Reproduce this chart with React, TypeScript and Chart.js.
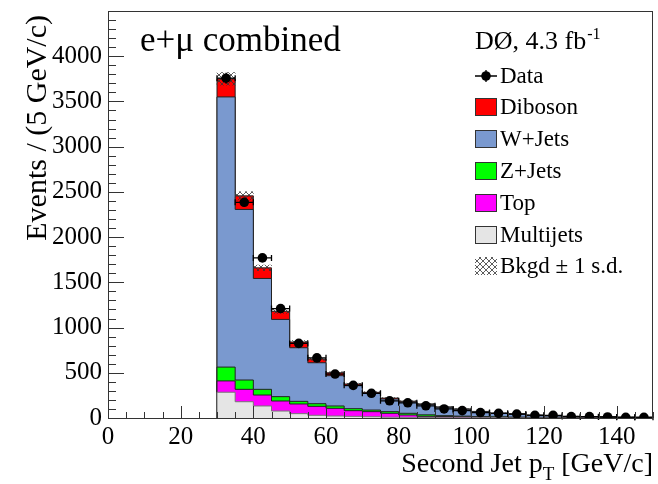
import React, { useEffect, useRef } from 'react';
import { Chart, registerables } from 'chart.js';

Chart.register(...registerables);

// ---- data (5 GeV bins, lower edges) ----
const binLow = [30, 35, 40, 45, 50, 55, 60, 65, 70, 75, 80, 85, 90, 95, 100, 105, 110, 115, 120, 125, 130, 135, 140, 145];
const binWidth = 5;
const multijets = [285, 180, 133, 77, 48, 30, 22, 18, 14, 9, 7, 5, 4, 3, 2, 2, 1, 1, 1, 1, 0, 0, 0, 0];
const topQuark = [125, 137, 121, 111, 107, 99, 85, 63, 56, 43, 26, 14, 12, 10, 7, 6, 5, 4, 3, 2, 2, 1, 1, 1];
const zJets = [153, 103, 63, 48, 29, 29, 26, 22, 18, 18, 19, 16, 10, 8, 6, 5, 4, 3, 2, 2, 2, 1, 1, 1];
const wJets = [2987, 1886, 1226, 854, 593, 453, 335, 254, 185, 140, 126, 115, 92, 75, 55, 39, 31, 22, 16, 13, 11, 9, 6, 5];
const diboson = [200, 150, 117, 90, 63, 41, 32, 19, 11, 10, 8, 6, 5, 4, 3, 2, 2, 2, 1, 1, 1, 1, 1, 1];
const bkgdErr = [70, 46, 31, 24, 17, 14, 11, 9, 7, 6, 5, 4, 3, 3, 2, 2, 2, 1, 1, 1, 1, 1, 1, 1];
const dataCounts = [3757, 2385, 1770, 1210, 825, 665, 486, 361, 273, 190, 168, 135, 100, 82, 60, 52, 44, 30, 30, 16, 15, 11, 8, 8];
const dataErr = [61, 49, 42, 35, 29, 26, 22, 19, 17, 14, 13, 12, 10, 9, 8, 7, 7, 5, 5, 4, 4, 3, 3, 3];

const xTickValues = [0, 20, 40, 60, 80, 100, 120, 140];
const yTickValues = [0, 500, 1000, 1500, 2000, 2500, 3000, 3500, 4000];
const X_MIN = 0;
const X_MAX = 150;
const Y_MIN = 0;
const Y_MAX = 4500;

const layerNames = ['Multijets', 'Top', 'Z+Jets', 'W+Jets', 'Diboson'];
const layerColors = ['#e5e5e5', '#ff00ff', '#00ff00', '#7a99cf', '#ff0000'];
const layerValues = [multijets, topQuark, zJets, wJets, diboson];

const FONT = "'Liberation Serif', 'DejaVu Serif', serif";

function makeHatch(): CanvasPattern | string {
  const c = document.createElement('canvas');
  c.width = 6;
  c.height = 6;
  const g = c.getContext('2d');
  if (!g) return 'rgba(0,0,0,0.3)';
  g.strokeStyle = '#333';
  g.lineWidth = 0.8;
  g.beginPath();
  g.moveTo(0, 0);
  g.lineTo(6, 6);
  g.moveTo(0, 6);
  g.lineTo(6, 0);
  g.stroke();
  const p = g.createPattern(c, 'repeat');
  return p || 'rgba(0,0,0,0.3)';
}

export default function App() {
  const ref = useRef<HTMLCanvasElement | null>(null);

  useEffect(() => {
    document.body.style.margin = '0';
    const canvas = ref.current;
    if (!canvas) return;
    const hatch = makeHatch();

    const cumul: number[][] = [];
    layerValues.forEach((vals, li) => {
      cumul.push(vals.map((v, i) => v + (li > 0 ? cumul[li - 1][i] : 0)));
    });
    const total = cumul[cumul.length - 1];

    const stepPoints = (c: number[]) => {
      const pts: { x: number; y: number }[] = [{ x: binLow[0], y: 0 }];
      binLow.forEach((x, i) => pts.push({ x, y: c[i] }));
      pts.push({ x: binLow[binLow.length - 1] + binWidth, y: c[c.length - 1] });
      return pts;
    };

    const datasets: any[] = [];
    datasets.push({
      type: 'line',
      label: 'Data',
      data: binLow.map((x, i) => ({ x: x + binWidth / 2, y: dataCounts[i] })),
      showLine: false,
      pointRadius: 4.8,
      pointBackgroundColor: '#000',
      pointBorderColor: '#000',
      pointBorderWidth: 0,
    });
    datasets.push({
      type: 'bar',
      label: 'Bkgd',
      data: binLow.map((x, i) => ({ x: x + binWidth / 2, y: [total[i] - bkgdErr[i], total[i] + bkgdErr[i]] })),
      backgroundColor: hatch,
      borderWidth: 0,
      barPercentage: 1,
      categoryPercentage: 1,
      grouped: false,
    });
    layerNames.forEach((name, li) => {
      datasets.push({
        type: 'line',
        label: name,
        data: stepPoints(cumul[li]),
        stepped: true,
        fill: 'origin',
        backgroundColor: layerColors[li],
        borderColor: li === 0 ? '#777' : '#222',
        borderWidth: 1,
        pointRadius: 0,
        tension: 0,
      });
    });

    const rootPlugin = {
      id: 'rootStyle',
      afterDatasetsDraw(chart: any) {
        const ctx = chart.ctx;
        const xs = chart.scales.x;
        const ys = chart.scales.y;
        const a = chart.chartArea;
        ctx.save();
        ctx.strokeStyle = '#000';
        ctx.lineWidth = 1.3;
        binLow.forEach((x, i) => {
          const cx = xs.getPixelForValue(x + binWidth / 2);
          const x0 = xs.getPixelForValue(x);
          const x1 = xs.getPixelForValue(x + binWidth);
          const cy = ys.getPixelForValue(dataCounts[i]);
          const yt = ys.getPixelForValue(dataCounts[i] + dataErr[i]);
          const yb = ys.getPixelForValue(dataCounts[i] - dataErr[i]);
          ctx.beginPath();
          ctx.moveTo(x0, cy);
          ctx.lineTo(x1, cy);
          ctx.moveTo(x0, cy - 3);
          ctx.lineTo(x0, cy + 3);
          ctx.moveTo(x1, cy - 3);
          ctx.lineTo(x1, cy + 3);
          ctx.moveTo(cx, yt);
          ctx.lineTo(cx, yb);
          ctx.stroke();
        });
        ctx.strokeStyle = '#333';
        ctx.lineWidth = 1;
        ctx.strokeRect(Math.round(a.left) + 0.5, Math.round(a.top) + 0.5, Math.round(a.right - a.left) - 1, Math.round(a.bottom - a.top));
        ctx.beginPath();
        for (let v = Y_MIN; v <= Y_MAX; v += 100) {
          const py = Math.round(ys.getPixelForValue(v)) + 0.5;
          const len = v % 500 === 0 ? 16 : 8;
          ctx.moveTo(a.left, py);
          ctx.lineTo(a.left + len, py);
        }
        for (let v = X_MIN; v <= X_MAX; v += 5) {
          const px = Math.round(xs.getPixelForValue(v)) + 0.5;
          const len = v % 20 === 0 ? 12 : 6;
          ctx.moveTo(px, a.bottom);
          ctx.lineTo(px, a.bottom - len);
        }
        ctx.stroke();
        ctx.restore();
      },
      afterDraw(chart: any) {
        const ctx = chart.ctx;
        ctx.save();
        ctx.fillStyle = '#000';
        ctx.save();
        ctx.translate(38, 15);
        ctx.rotate(-Math.PI / 2);
        ctx.font = `30px ${FONT}`;
        ctx.textAlign = 'right';
        ctx.textBaseline = 'middle';
        ctx.fillText('Events / (5 GeV/c)', 0, 0);
        ctx.restore();
        ctx.textBaseline = 'alphabetic';
        ctx.textAlign = 'left';
        const big = `28px ${FONT}`;
        const small = `19px ${FONT}`;
        const t1 = 'Second Jet p';
        const t2 = 'T';
        const t3 = ' [GeV/c]';
        ctx.font = big;
        const w1 = ctx.measureText(t1).width;
        const w3 = ctx.measureText(t3).width;
        ctx.font = small;
        const w2 = ctx.measureText(t2).width;
        let sx = 653 - (w1 + w2 + w3);
        const by = 472;
        ctx.font = big;
        ctx.fillText(t1, sx, by);
        sx += w1;
        ctx.font = small;
        ctx.fillText(t2, sx, by + 8);
        sx += w2;
        ctx.font = big;
        ctx.fillText(t3, sx, by);
        ctx.font = `35px ${FONT}`;
        ctx.fillText('e+μ combined', 140, 51);
        ctx.font = `26px ${FONT}`;
        const lab = 'DØ, 4.3 fb';
        ctx.fillText(lab, 475, 49);
        const lw = ctx.measureText(lab).width;
        ctx.font = `16px ${FONT}`;
        ctx.fillText('-1', 475 + lw + 1, 39);

        const rowY = [76, 107, 139, 171, 203, 235, 266];
        const bx = 475;
        const bw = 22;
        const bh = 18;
        const tx = 500;
        ctx.font = `23px ${FONT}`;
        ctx.textBaseline = 'middle';
        ctx.strokeStyle = '#000';
        ctx.lineWidth = 1.3;
        ctx.beginPath();
        ctx.moveTo(bx, rowY[0]);
        ctx.lineTo(bx + bw, rowY[0]);
        ctx.moveTo(bx + bw / 2, rowY[0] - 6);
        ctx.lineTo(bx + bw / 2, rowY[0] + 6);
        ctx.stroke();
        ctx.beginPath();
        ctx.arc(bx + bw / 2, rowY[0], 4.8, 0, Math.PI * 2);
        ctx.fill();
        ctx.fillText('Data', tx, rowY[0] + 1);
        const legendOrder = [4, 3, 2, 1, 0];
        legendOrder.forEach((li, k) => {
          const y = rowY[k + 1];
          ctx.fillStyle = layerColors[li];
          ctx.fillRect(bx, y - bh / 2, bw, bh);
          ctx.strokeStyle = '#333';
          ctx.lineWidth = 1;
          ctx.strokeRect(bx + 0.5, y - bh / 2 + 0.5, bw - 1, bh - 1);
          ctx.fillStyle = '#000';
          ctx.fillText(layerNames[li], tx, y + 1);
        });
        const hy = rowY[6];
        ctx.fillStyle = hatch as any;
        ctx.fillRect(bx, hy - bh / 2, bw, bh);
        ctx.fillStyle = '#000';
        ctx.fillText('Bkgd ± 1 s.d.', tx, hy + 1);
        ctx.restore();
      },
    };

    const chart = new Chart(canvas, {
      type: 'line',
      data: { datasets },
      options: {
        animation: false,
        responsive: false,
        devicePixelRatio: 1,
        events: [],
        layout: { padding: { top: 11, right: 5, left: 0, bottom: 0 } },
        plugins: { legend: { display: false }, tooltip: { enabled: false }, title: { display: false } },
        scales: {
          x: {
            type: 'linear',
            min: X_MIN,
            max: X_MAX,
            offset: false,
            grid: { display: false, drawTicks: false, offset: false },
            border: { display: false },
            afterBuildTicks: (s: any) => {
              s.ticks = xTickValues.map((v) => ({ value: v }));
            },
            afterFit: (s: any) => {
              s.height = 66;
              s.paddingLeft = 0;
              s.paddingRight = 0;
            },
            ticks: {
              autoSkip: false,
              maxRotation: 0,
              padding: 4,
              color: '#000',
              font: { family: FONT, size: 25 },
              callback: (v: any) => String(v),
            },
          },
          y: {
            type: 'linear',
            min: Y_MIN,
            max: Y_MAX,
            grid: { display: false, drawTicks: false },
            border: { display: false },
            afterBuildTicks: (s: any) => {
              s.ticks = yTickValues.map((v) => ({ value: v }));
            },
            afterFit: (s: any) => {
              s.width = 108;
              s.paddingTop = 0;
              s.paddingBottom = 0;
            },
            ticks: {
              autoSkip: false,
              padding: 6,
              color: '#000',
              font: { family: FONT, size: 25 },
              callback: (v: any) => String(v),
            },
          },
        },
      },
      plugins: [rootPlugin],
    } as any);

    return () => chart.destroy();
  }, []);

  return (
    <div style={{ width: 658, height: 484 }}>
      <canvas ref={ref} width={658} height={484} style={{ display: 'block', width: 658, height: 484 }} />
    </div>
  );
}
